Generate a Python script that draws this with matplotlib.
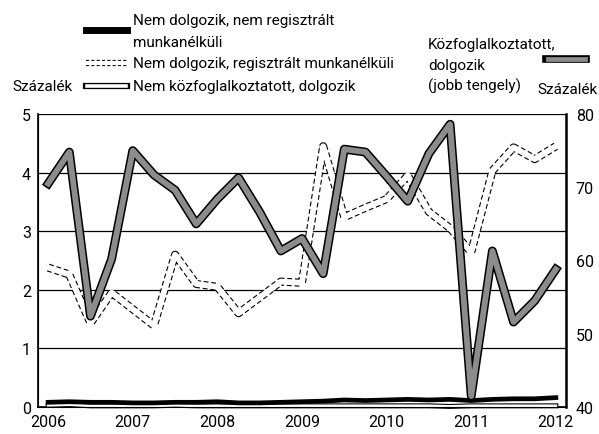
import numpy as np
import matplotlib
matplotlib.use("Agg")
import matplotlib.pyplot as plt
from matplotlib.lines import Line2D

plt.rcParams['font.family'] = ['Roboto', 'DejaVu Sans']

# negyedéves adatok 2006-2012
evek = 2006 + np.arange(25) * 0.25
ev_tickek = [2006, 2007, 2008, 2009, 2010, 2011, 2012]

# Közfoglalkoztatott, dolgozik (jobb tengely)
kozfog = [70.5, 74.8, 52.4, 60.2, 75.0, 71.7, 69.6, 65.0, 68.4, 71.3, 66.6, 61.3, 63.0,
          58.2, 75.2, 74.8, 71.5, 68.1, 74.6, 78.6, 41.5, 61.3, 51.6, 54.5, 58.8]
# Nem dolgozik, regisztrált munkanélküli
regisztralt = [2.38, 2.26, 1.43, 1.95, 1.67, 1.39, 2.60, 2.10, 2.05, 1.60, 1.87, 2.14, 2.12,
               4.45, 3.24, 3.40, 3.55, 3.95, 3.33, 3.05, 2.64, 4.03, 4.43, 4.23, 4.45]
# Nem dolgozik, nem regisztrált munkanélküli
nem_reg = [0.08, 0.09, 0.08, 0.08, 0.07, 0.07, 0.08, 0.08, 0.09, 0.07, 0.07, 0.08, 0.09,
           0.10, 0.12, 0.11, 0.12, 0.13, 0.12, 0.13, 0.11, 0.13, 0.14, 0.14, 0.16]
# Nem közfoglalkoztatott, dolgozik
nem_kozfog = [0.03, 0.04, 0.02, 0.02, 0.02, 0.02, 0.03, 0.02, 0.02, 0.02, 0.02, 0.02, 0.02,
              0.02, 0.02, 0.02, 0.02, 0.02, 0.02, 0.01, 0.02, 0.02, 0.02, 0.02, 0.02]

fig = plt.figure(figsize=(5.99, 4.35), dpi=100)
ax = fig.add_axes([38 / 599, 1 - 408 / 435, (566 - 38) / 599, (408 - 115) / 435])
ax2 = ax.twinx()

szurke = '#8c8c8c'
fs = 11
tfs = 11.5

# bal tengely
ax.plot(evek, regisztralt, color='black', lw=5.8, ls=(0, (0.6, 0.35)), solid_capstyle='butt',
        dash_capstyle='butt', zorder=3)
ax.plot(evek, regisztralt, color='white', lw=4.2, zorder=4)
ax.plot(evek, nem_kozfog, color='black', lw=3.6, zorder=3, clip_on=False)
ax.plot(evek, nem_kozfog, color='white', lw=2.0, zorder=4, clip_on=False)
ax.plot(evek, nem_reg, color='black', lw=3.4, zorder=5)

ax.set_xlim(2005.88, 2012.12)
ax.set_ylim(0, 5)
ax.set_yticks([0, 1, 2, 3, 4, 5])
ax.set_xticks(ev_tickek)
ax.grid(axis='y', color='black', lw=0.9)
ax.set_axisbelow(True)
ax.tick_params(length=0, labelsize=tfs, pad=5)
ax.spines['top'].set_visible(False)
for s in ['left', 'bottom']:
    ax.spines[s].set_linewidth(1.2)

# jobb tengely
ax2.plot(evek, kozfog, color='black', lw=6.4, zorder=5)
ax2.plot(evek, kozfog, color=szurke, lw=4.2, zorder=6)
ax2.set_ylim(40, 80)
ax2.set_yticks([40, 50, 60, 70, 80])
ax2.tick_params(length=0, labelsize=tfs, pad=7)
ax2.spines['top'].set_visible(False)
ax2.spines['right'].set_linewidth(1.8)

# jelmagyarázat
def fy(y):
    return 1 - y / 435

def fx(x):
    return x / 599

x0, x1 = fx(86), fx(127)
fig.add_artist(Line2D([x0, x1], [fy(31), fy(31)], color='black', lw=5))
fig.add_artist(Line2D([x0, x1], [fy(64), fy(64)], color='black', lw=4.5, ls=(0, (0.5, 0.35)),
                      dash_capstyle='butt'))
fig.add_artist(Line2D([x0, x1], [fy(64), fy(64)], color='white', lw=3))
fig.add_artist(Line2D([x0, x1], [fy(87), fy(87)], color='black', lw=4.5))
fig.add_artist(Line2D([x0 + 0.002, x1 - 0.002], [fy(87), fy(87)], color='white', lw=2.6))
fig.add_artist(Line2D([fx(546), fx(586)], [fy(60), fy(60)], color='black', lw=5.5))
fig.add_artist(Line2D([fx(547.5), fx(584.5)], [fy(60), fy(60)], color=szurke, lw=3.4))

fig.text(fx(133), fy(21), 'Nem dolgozik, nem regisztrált', fontsize=fs, va='center')
fig.text(fx(133), fy(43), 'munkanélküli', fontsize=fs, va='center')
fig.text(fx(133), fy(64), 'Nem dolgozik, regisztrált munkanélküli', fontsize=fs, va='center')
fig.text(fx(133), fy(87), 'Nem közfoglalkoztatott, dolgozik', fontsize=fs, va='center')
fig.text(fx(12), fy(87), 'Százalék', fontsize=fs, va='center')
fig.text(fx(428), fy(45), 'Közfoglalkoztatott,', fontsize=fs, va='center')
fig.text(fx(428), fy(66), 'dolgozik', fontsize=fs, va='center')
fig.text(fx(428), fy(86), '(jobb tengely)', fontsize=fs, va='center')
fig.text(fx(537), fy(90), 'Százalék', fontsize=fs, va='center')

fig.savefig('out.png', dpi=100)
